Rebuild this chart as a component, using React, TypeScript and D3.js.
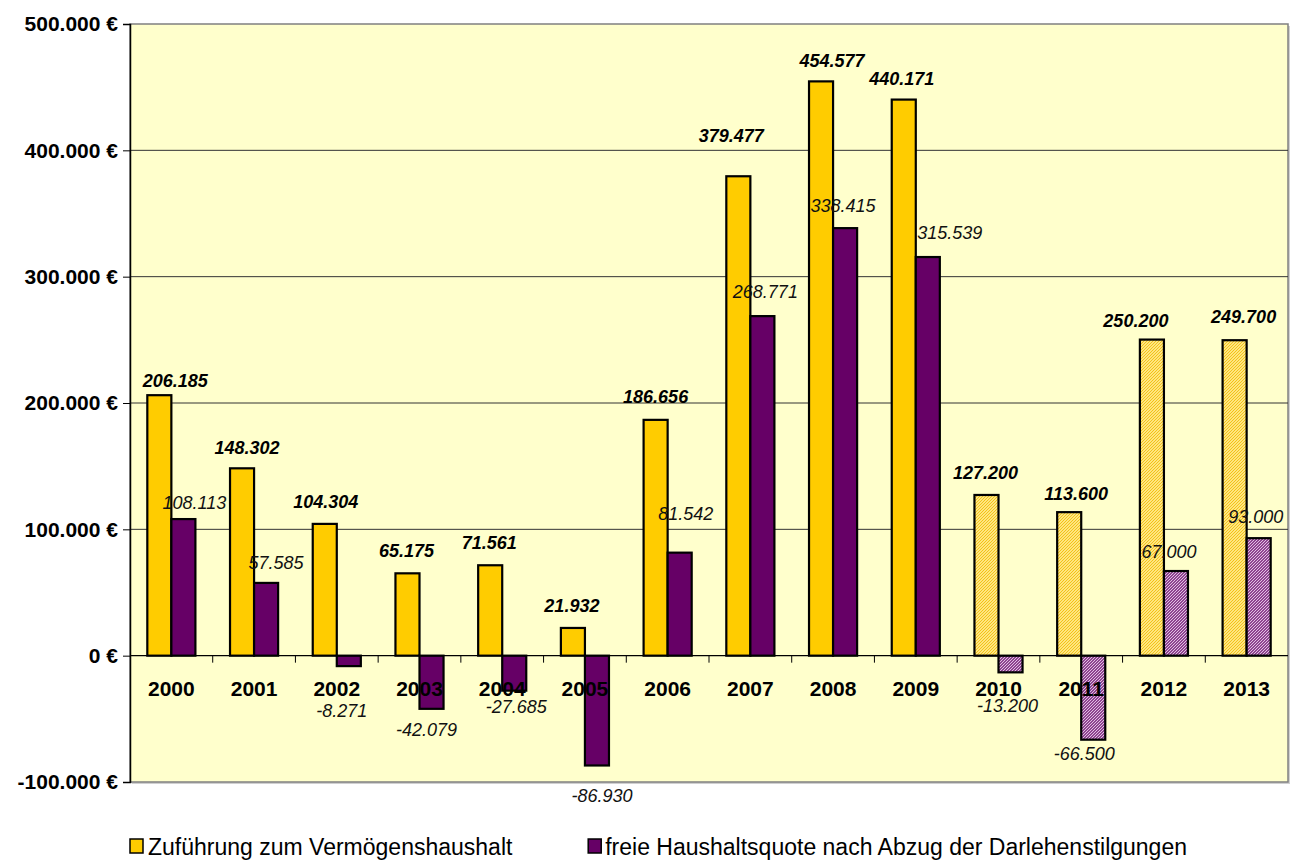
import React, { useEffect, useRef } from "react";
import * as d3 from "d3";

// ── Daten ──────────────────────────────────────────────────────────────────
const years = ["2000", "2001", "2002", "2003", "2004", "2005", "2006", "2007", "2008", "2009", "2010", "2011", "2012", "2013"];
const zufuehrung = [206185, 148302, 104304, 65175, 71561, 21932, 186656, 379477, 454577, 440171, 127200, 113600, 250200, 249700];
const freieQuote = [108113, 57585, -8271, -42079, -27685, -86930, 81542, 268771, 338415, 315539, -13200, -66500, 67000, 93000];
// Planwerte (schraffiert)
const plannedYears = ["2010", "2011", "2012", "2013"];
const yTicks = [-100000, 0, 100000, 200000, 300000, 400000, 500000];

const seriesNames = ["Zuführung zum Vermögenshaushalt", "freie Haushaltsquote nach Abzug der Darlehenstilgungen"];

// manuell verschobene Datenbeschriftungen (px, relativ zum Balkenende)
const yellowNudge = [[16, -15], [5, -21], [1, -22], [-1, -23], [-1, -23], [-1, -22], [0, -23], [-7, -41], [11, -21], [-2, -21], [-1, -22], [7, -19], [-16, -19], [9, -24]];
const purpleNudge = [[11, -17], [10, -20], [-7, 44], [-5, 21], [2, 16], [5, 30], [6, -39], [3, -25], [-2, -23], [22, -25], [-3, 33], [-9, 14], [-7, -20], [-3, -22]];

const W = 1294;
const H = 860;
const PLOT = { left: 130, right: 1288, top: 24, bottom: 782 };
const FONT = "Arial, 'Liberation Sans', Helvetica, sans-serif";
const YELLOW = "#FFCC00";
const PURPLE = "#660066";

const de = d3.formatLocale({ decimal: ",", thousands: ".", grouping: [3], currency: ["", " €"], minus: "-" });
const fmt = de.format(",d");

const App: React.FC = () => {
    const svgRef = useRef<SVGSVGElement | null>(null);

    useEffect(() => {
        if (!svgRef.current) return;
        const root = d3.select(svgRef.current);
        root.selectAll("*").remove();

        const svg = root.attr("width", W).attr("height", H).attr("viewBox", `0 0 ${W} ${H}`);

        // ── Muster für Planwerte ───────────────────────────────────────────
        const defs = svg.append("defs");
        const yp = defs.append("pattern").attr("id", "hatch-y").attr("patternUnits", "userSpaceOnUse")
            .attr("width", 3).attr("height", 3);
        yp.append("rect").attr("width", 3).attr("height", 3).attr("fill", "#FFE680");
        yp.append("path").attr("d", "M0,3 L3,0").attr("stroke", "#F2C21A").attr("stroke-width", 1);
        const pp = defs.append("pattern").attr("id", "hatch-p").attr("patternUnits", "userSpaceOnUse")
            .attr("width", 3).attr("height", 3);
        pp.append("rect").attr("width", 3).attr("height", 3).attr("fill", "#8E4490");
        pp.append("path").attr("d", "M0,3 L3,0").attr("stroke", "#EBCDEB").attr("stroke-width", 0.9);

        // ── Skalen ─────────────────────────────────────────────────────────
        const x = d3.scaleBand<string>().domain(years).range([PLOT.left, PLOT.right]).padding(0);
        const x1 = d3.scaleBand<string>().domain(["a", "b"]).range([0, x.bandwidth()])
            .paddingInner(0).paddingOuter(0.72);
        const y = d3.scaleLinear().domain([-100000, 500000]).range([PLOT.bottom, PLOT.top]);

        // ── Zeichenfläche ──────────────────────────────────────────────────
        svg.append("rect")
            .attr("x", PLOT.left + 2).attr("y", PLOT.top + 2)
            .attr("width", PLOT.right - PLOT.left).attr("height", PLOT.bottom - PLOT.top)
            .attr("fill", "#D0D0D0");
        svg.append("rect")
            .attr("x", PLOT.left).attr("y", PLOT.top)
            .attr("width", PLOT.right - PLOT.left).attr("height", PLOT.bottom - PLOT.top)
            .attr("fill", "#FFFFCC").attr("stroke", "#808080").attr("stroke-width", 1.5);

        // ── Gitter ─────────────────────────────────────────────────────────
        svg.append("g").selectAll("line")
            .data(yTicks.filter((t) => t !== 0 && t !== -100000 && t !== 500000))
            .enter().append("line")
            .attr("x1", PLOT.left).attr("x2", PLOT.right)
            .attr("y1", (d) => y(d)).attr("y2", (d) => y(d))
            .attr("stroke", "#333").attr("stroke-width", 1);

        // ── Y-Achse ────────────────────────────────────────────────────────
        const yAxis = svg.append("g")
            .attr("transform", `translate(${PLOT.left},0)`)
            .call(d3.axisLeft(y).tickValues(yTicks).tickSize(7).tickPadding(5)
                .tickFormat((d) => `${fmt(d as number)} €`));
        yAxis.select(".domain").attr("stroke", "#000").attr("stroke-width", 1.5);
        yAxis.selectAll(".tick line").attr("stroke", "#000");
        yAxis.selectAll("text")
            .attr("font-family", FONT).attr("font-size", 21).attr("font-weight", "bold").attr("fill", "#000");

        // ── Balken ─────────────────────────────────────────────────────────
        const isPlan = (yr: string) => plannedYears.includes(yr);
        const bars = svg.append("g").attr("stroke", "#000").attr("stroke-width", 2.2);
        years.forEach((yr, i) => {
            const bx = x(yr) as number;
            const v1 = zufuehrung[i];
            const v2 = freieQuote[i];
            bars.append("rect")
                .attr("x", bx + (x1("a") as number)).attr("width", x1.bandwidth())
                .attr("y", y(Math.max(0, v1))).attr("height", Math.abs(y(v1) - y(0)))
                .attr("fill", isPlan(yr) ? "url(#hatch-y)" : YELLOW);
            bars.append("rect")
                .attr("x", bx + (x1("b") as number)).attr("width", x1.bandwidth())
                .attr("y", y(Math.max(0, v2))).attr("height", Math.abs(y(v2) - y(0)))
                .attr("fill", isPlan(yr) ? "url(#hatch-p)" : PURPLE);
        });

        // ── X-Achse (Nulllinie) ────────────────────────────────────────────
        svg.append("line")
            .attr("x1", PLOT.left).attr("x2", PLOT.right)
            .attr("y1", y(0)).attr("y2", y(0))
            .attr("stroke", "#000").attr("stroke-width", 1.2);
        svg.append("g").selectAll("line")
            .data(years.slice(1))
            .enter().append("line")
            .attr("x1", (d) => x(d) as number).attr("x2", (d) => x(d) as number)
            .attr("y1", y(0)).attr("y2", y(0) + 7)
            .attr("stroke", "#000").attr("stroke-width", 1);

        svg.append("g").selectAll("text")
            .data(years)
            .enter().append("text")
            .attr("x", (d) => (x(d) as number) + x.bandwidth() / 2)
            .attr("y", y(0) + 40)
            .attr("text-anchor", "middle")
            .attr("font-family", FONT).attr("font-size", 21).attr("font-weight", "bold")
            .text((d) => d);

        // ── Datenbeschriftungen ────────────────────────────────────────────
        const labels = svg.append("g").attr("font-family", FONT).attr("font-size", 18)
            .attr("font-style", "italic").attr("text-anchor", "middle");
        years.forEach((yr, i) => {
            const bx = x(yr) as number;
            const cA = bx + (x1("a") as number) + x1.bandwidth() / 2;
            const cB = bx + (x1("b") as number) + x1.bandwidth() / 2;
            labels.append("text")
                .attr("x", cA + yellowNudge[i][0])
                .attr("y", y(zufuehrung[i]) + yellowNudge[i][1] + 6.5)
                .attr("font-weight", "bold").attr("fill", "#000")
                .text(fmt(zufuehrung[i]));
            labels.append("text")
                .attr("x", cB + purpleNudge[i][0])
                .attr("y", y(freieQuote[i]) + purpleNudge[i][1] + 6.5)
                .attr("fill", "#111")
                .text(fmt(freieQuote[i]));
        });

        // ── Legende ────────────────────────────────────────────────────────
        const legend = svg.append("g").attr("font-family", FONT).attr("font-size", 23);
        legend.append("rect")
            .attr("x", 130).attr("y", 839).attr("width", 13).attr("height", 14)
            .attr("fill", YELLOW).attr("stroke", "#000").attr("stroke-width", 1.5);
        legend.append("text").attr("x", 148).attr("y", 855).text(seriesNames[0]);
        const t2 = legend.append("text").attr("x", 1187).attr("y", 855)
            .attr("text-anchor", "end").text(seriesNames[1]);
        const w2 = (t2.node() as SVGTextElement).getComputedTextLength();
        legend.append("rect")
            .attr("x", 1187 - w2 - 17).attr("y", 839).attr("width", 13).attr("height", 14)
            .attr("fill", PURPLE).attr("stroke", "#000").attr("stroke-width", 1.5);
    }, []);

    return (
        <div style={{ position: "absolute", left: 0, top: 0, width: W, height: H, background: "#fff" }}>
            <svg ref={svgRef} style={{ display: "block" }} />
        </div>
    );
};

export default App;
